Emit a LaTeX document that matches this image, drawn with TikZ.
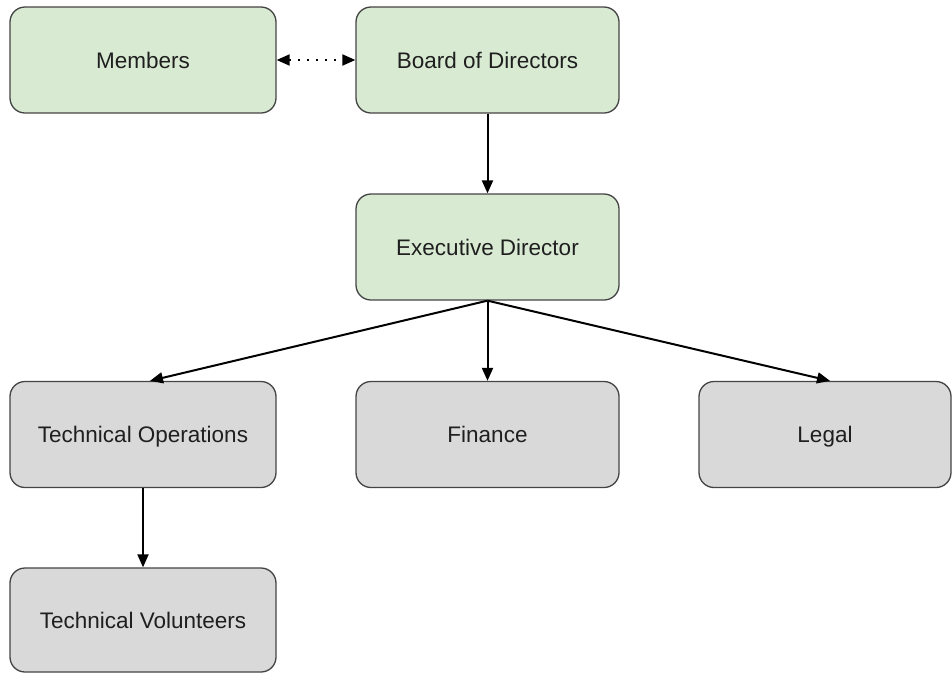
\documentclass[tikz,border=0pt]{standalone}
\usepackage{fontspec}
\setmainfont{Liberation Sans}
\usetikzlibrary{arrows.meta}
\definecolor{boxgreen}{HTML}{D9EAD3}
\definecolor{boxgray}{HTML}{D9D9D9}
\definecolor{boxline}{HTML}{444444}
\begin{document}
\begin{tikzpicture}[x=1pt,y=-1pt,
  box/.style={draw=boxline, line width=1.3pt, rounded corners=15pt, minimum width=266pt, minimum height=106pt, inner sep=0pt, text height=18pt, text depth=2pt, font=\fontsize{22.5}{26}\selectfont, text=black!88},
  greenbox/.style={box, fill=boxgreen},
  graybox/.style={box, fill=boxgray},
  conn/.style={line width=2pt, -{Triangle[length=13pt,width=11pt]}}
]
\useasboundingbox (0,0) rectangle (952,673);
\node[greenbox] (members) at (143,60) {Members};
\node[greenbox, minimum width=263pt] (board) at (487.5,60) {Board of Directors};
\node[greenbox, minimum width=263pt] (exec) at (487.5,247) {Executive Director};
\node[graybox] (techops) at (143,434.5) {Technical Operations};
\node[graybox, minimum width=263pt] (finance) at (487.5,434.5) {Finance};
\node[graybox, minimum width=252pt] (legal) at (825,434.5) {Legal};
\node[graybox, minimum height=104pt] (techvol) at (143,620) {Technical Volunteers};
\draw[line width=2pt, {Triangle[length=13pt,width=11pt]}-{Triangle[length=13pt,width=11pt]}, dash pattern=on 2pt off 7pt] (members.east) -- (board.west);
\draw[conn] (board.south) -- (exec.north);
\draw[conn] (exec.south) -- ([xshift=7pt]techops.north);
\draw[conn] (exec.south) -- (finance.north);
\draw[conn] (exec.south) -- ([xshift=5pt]legal.north);
\draw[conn] (techops.south) -- (techvol.north);
\end{tikzpicture}
\end{document}
